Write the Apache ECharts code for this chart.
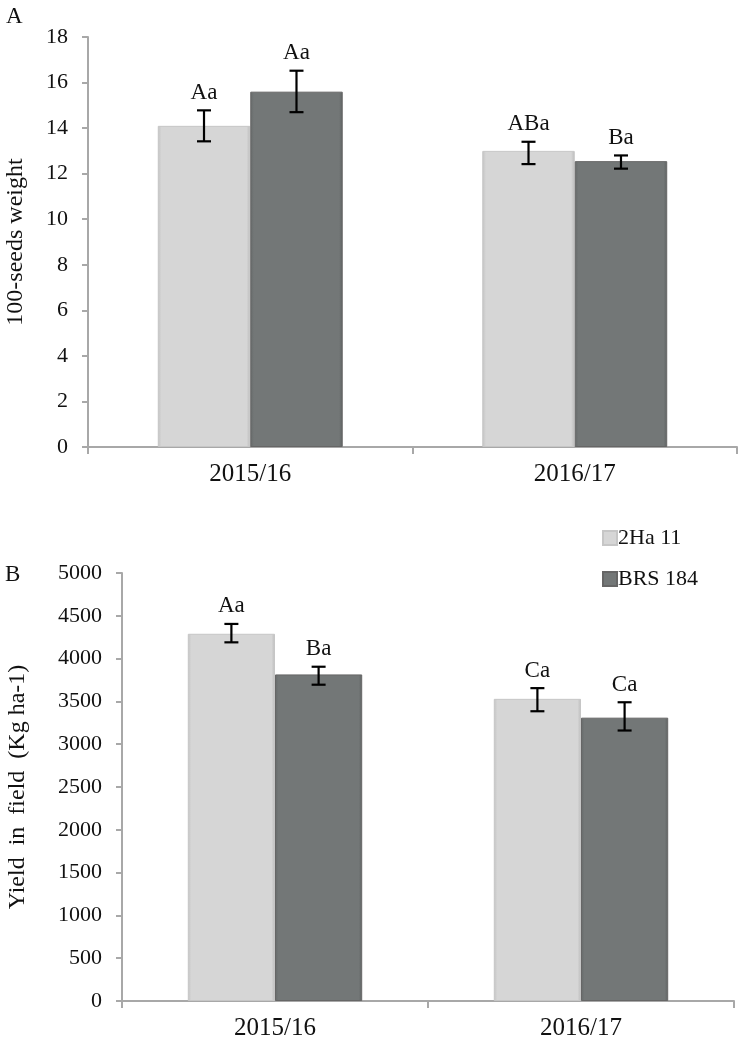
<!DOCTYPE html>
<html>
<head>
<meta charset="utf-8">
<script src="https://cdn.jsdelivr.net/npm/echarts@6/dist/echarts.min.js"></script>
<style>
html,body{margin:0;padding:0;background:#fff;}
#main{width:738px;height:1039px;}
</style>
</head>
<body>
<div id="main"></div>
<script>
// ---- data ----
const categories = ['2015/16', '2016/17'];
const seriesNames = ['2Ha 11', 'BRS 184'];

// Panel A: 100-seeds weight
const seedLight = [14.1, 13.0];
const seedDark = [15.6, 12.55];
const seedLightLow = [13.42, 12.42];
const seedLightHigh = [14.78, 13.4];
const seedDarkLow = [14.7, 12.22];
const seedDarkHigh = [16.52, 12.8];
const seedLightLetters = ['Aa', 'ABa'];
const seedDarkLetters = ['Aa', 'Ba'];

// Panel B: Yield in field
const yieldLight = [4290, 3530];
const yieldDark = [3815, 3310];
const yieldLightLow = [4190, 3385];
const yieldLightHigh = [4405, 3655];
const yieldDarkLow = [3695, 3160];
const yieldDarkHigh = [3905, 3490];
const yieldLightLetters = ['Aa', 'Ca'];
const yieldDarkLetters = ['Ba', 'Ca'];

const seedTicks = {min: 0, max: 18, interval: 2};
const yieldTicks = {min: 0, max: 5000, interval: 500};

// ---- styling ----
const FONT = "'Liberation Serif', 'Times New Roman', serif";
const axisColor = '#a8a8a8';
const lightFill = {
  type: 'linear', x: 0, y: 0, x2: 1, y2: 0,
  colorStops: [
    {offset: 0, color: '#c2c2c2'}, {offset: 0.04, color: '#d6d6d6'},
    {offset: 0.96, color: '#d6d6d6'}, {offset: 1, color: '#bcbcbc'}
  ]
};
const darkFill = {
  type: 'linear', x: 0, y: 0, x2: 1, y2: 0,
  colorStops: [
    {offset: 0, color: '#666a6a'}, {offset: 0.04, color: '#737777'},
    {offset: 0.96, color: '#737777'}, {offset: 1, color: '#5f6363'}
  ]
};
const BAR_FRAC = 0.285;

function barSeries(name, data, idx, fill, border) {
  return {
    name: name, type: 'bar', xAxisIndex: idx, yAxisIndex: idx,
    data: data, barWidth: (BAR_FRAC * 100) + '%', barGap: '0%',
    itemStyle: {color: fill, borderColor: border, borderWidth: 1},
    emphasis: {disabled: true}
  };
}

function errSeries(low, high, letters, idx, side) {
  return {
    type: 'custom', xAxisIndex: idx, yAxisIndex: idx, z: 10,
    data: categories.map((c, i) => [i, low[i], high[i], letters[i]]),
    encode: {x: 0, y: [1, 2]},
    renderItem: function (params, api) {
      const i = api.value(0);
      const cw = api.size([1, 0])[0];
      const hi = api.coord([i, api.value(2)]);
      const lo = api.coord([i, api.value(1)]);
      const x = hi[0] + side * (BAR_FRAC / 2) * cw;
      const cap = 7;
      const st = {stroke: '#000', lineWidth: 2.2};
      return {
        type: 'group',
        children: [
          {type: 'line', shape: {x1: x, y1: hi[1], x2: x, y2: lo[1]}, style: st},
          {type: 'line', shape: {x1: x - cap, y1: hi[1], x2: x + cap, y2: hi[1]}, style: st},
          {type: 'line', shape: {x1: x - cap, y1: lo[1], x2: x + cap, y2: lo[1]}, style: st},
          {type: 'text', style: {
            text: letters[i], x: x, y: hi[1] - 6,
            align: 'center', verticalAlign: 'bottom',
            font: '23px ' + FONT, fill: '#111'
          }}
        ]
      };
    }
  };
}

function xAxis(idx) {
  return {
    type: 'category', gridIndex: idx, data: categories,
    axisLine: {lineStyle: {color: axisColor, width: 2}},
    axisTick: {show: true, length: 7, lineStyle: {color: axisColor, width: 2}},
    axisLabel: {fontFamily: FONT, fontSize: 25, color: '#111', margin: 15}
  };
}
function yAxis(idx, ticks, name, gap) {
  return {
    type: 'value', gridIndex: idx, min: ticks.min, max: ticks.max, interval: ticks.interval,
    name: name, nameLocation: 'middle', nameGap: gap, nameRotate: 90,
    nameTextStyle: {fontFamily: FONT, fontSize: 24, color: '#111'},
    splitLine: {show: false},
    axisLine: {show: true, lineStyle: {color: axisColor, width: 2}},
    axisTick: {show: true, length: 6, lineStyle: {color: axisColor, width: 2}},
    axisLabel: {fontFamily: FONT, fontSize: 22, color: '#111', margin: 20,
      formatter: function (v) { return String(v); }}
  };
}

const chart = echarts.init(document.getElementById('main'), null, {renderer: 'canvas'});
chart.setOption({
  animation: false,
  backgroundColor: '#fff',
  title: [
    {text: 'A', left: 1, top: 0, textStyle: {fontFamily: FONT, fontSize: 23, fontWeight: 'normal', color: '#111'}},
    {text: 'B', left: 0, top: 558, textStyle: {fontFamily: FONT, fontSize: 23, fontWeight: 'normal', color: '#111'}}
  ],
  legend: {
    orient: 'vertical', left: 597, top: 522, itemGap: 19,
    itemWidth: 14, itemHeight: 14, icon: 'rect',
    data: seriesNames,
    textStyle: {fontFamily: FONT, fontSize: 22, color: '#111', padding: [0, 0, 0, -4]}
  },
  grid: [
    {left: 88, right: 1, top: 37, height: 410, outerBoundsMode: 'none', containLabel: false},
    {left: 122, right: 4, top: 573, height: 428, outerBoundsMode: 'none', containLabel: false}
  ],
  xAxis: [xAxis(0), xAxis(1)],
  yAxis: [
    yAxis(0, seedTicks, '100-seeds weight', 60),
    yAxis(1, yieldTicks, 'Yield  in  field  (Kg ha-1)', 92)
  ],
  series: [
    barSeries(seriesNames[0], seedLight, 0, lightFill, '#c6c6c6'),
    barSeries(seriesNames[1], seedDark, 0, darkFill, '#666'),
    errSeries(seedLightLow, seedLightHigh, seedLightLetters, 0, -1),
    errSeries(seedDarkLow, seedDarkHigh, seedDarkLetters, 0, 1),
    barSeries(seriesNames[0], yieldLight, 1, lightFill, '#c6c6c6'),
    barSeries(seriesNames[1], yieldDark, 1, darkFill, '#666'),
    errSeries(yieldLightLow, yieldLightHigh, yieldLightLetters, 1, -1),
    errSeries(yieldDarkLow, yieldDarkHigh, yieldDarkLetters, 1, 1)
  ]
});
</script>
</body>
</html>
